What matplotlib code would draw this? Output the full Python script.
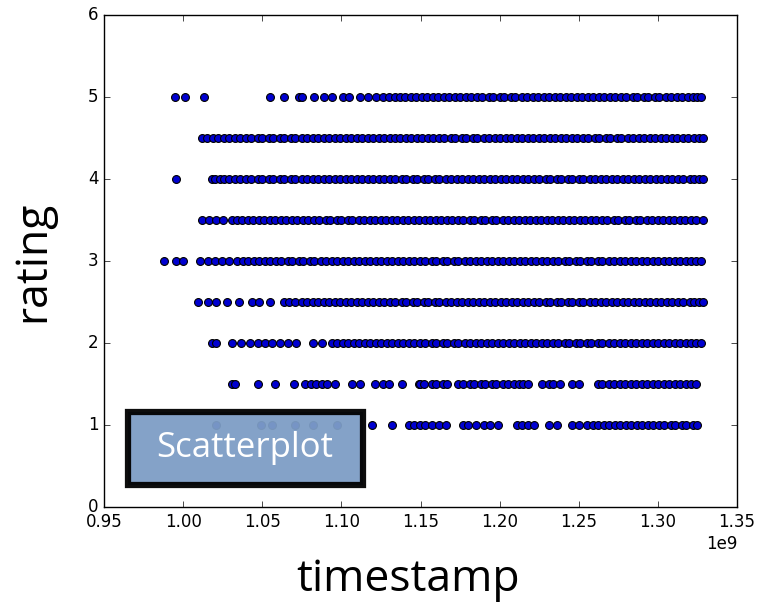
import numpy as np
import matplotlib
matplotlib.use("Agg")
import matplotlib.pyplot as plt
from matplotlib.patches import Rectangle

# timestamps (in units of 1e9 s) read per rating row
ts_50 = [0.995, 1.001, 1.0135, 1.055, 1.064, 1.073, 1.075, 1.083, 1.089, 1.094, 1.101, 1.105,
         1.112, 1.117, 1.122, 1.126, 1.130, 1.134, 1.137, 1.140, 1.144, 1.147, 1.151, 1.154,
         1.158, 1.161, 1.165, 1.168, 1.172, 1.175, 1.179, 1.182, 1.186, 1.189, 1.193, 1.196,
         1.200, 1.203, 1.207, 1.210, 1.214, 1.217, 1.221, 1.224, 1.228, 1.231, 1.235, 1.238,
         1.242, 1.245, 1.249, 1.252, 1.256, 1.259, 1.263, 1.266, 1.270, 1.273, 1.277, 1.280,
         1.284, 1.287, 1.291, 1.294, 1.298, 1.301, 1.305, 1.308, 1.312, 1.315, 1.319, 1.322,
         1.325, 1.3275]
ts_45 = [1.012, 1.015, 1.019, 1.022, 1.026, 1.029, 1.033, 1.036, 1.040, 1.043, 1.047, 1.050,
         1.054, 1.057, 1.061, 1.064, 1.068, 1.071, 1.075, 1.078, 1.082, 1.085, 1.089, 1.092,
         1.096, 1.099, 1.103, 1.106, 1.110, 1.113, 1.117, 1.120, 1.124, 1.127, 1.131, 1.134,
         1.137, 1.141, 1.144, 1.148, 1.151, 1.155, 1.158, 1.162, 1.165, 1.169, 1.172, 1.176,
         1.179, 1.183, 1.186, 1.190, 1.193, 1.197, 1.200, 1.204, 1.207, 1.211, 1.214, 1.218,
         1.221, 1.225, 1.228, 1.232, 1.235, 1.239, 1.242, 1.246, 1.249, 1.253, 1.256, 1.260,
         1.263, 1.267, 1.270, 1.274, 1.277, 1.281, 1.284, 1.288, 1.291, 1.295, 1.298, 1.302,
         1.305, 1.309, 1.312, 1.316, 1.319, 1.323, 1.326, 1.3285]
ts_40 = [0.9955, 1.018, 1.020, 1.023, 1.026, 1.029, 1.033, 1.036, 1.040, 1.043, 1.047, 1.050,
         1.054, 1.057, 1.061, 1.064, 1.068, 1.071, 1.075, 1.078, 1.082, 1.085, 1.089, 1.092,
         1.096, 1.099, 1.103, 1.106, 1.110, 1.113, 1.117, 1.120, 1.124, 1.127, 1.131, 1.134,
         1.138, 1.141, 1.145, 1.148, 1.152, 1.155, 1.159, 1.162, 1.166, 1.169, 1.173, 1.176,
         1.180, 1.183, 1.187, 1.190, 1.194, 1.197, 1.201, 1.204, 1.208, 1.211, 1.215, 1.218,
         1.222, 1.225, 1.229, 1.232, 1.236, 1.239, 1.243, 1.246, 1.250, 1.253, 1.257, 1.260,
         1.264, 1.267, 1.271, 1.274, 1.278, 1.281, 1.285, 1.288, 1.292, 1.295, 1.299, 1.302,
         1.306, 1.309, 1.313, 1.316, 1.320, 1.323, 1.326, 1.3285]
ts_35 = [1.012, 1.0165, 1.021, 1.0255, 1.031, 1.034, 1.037, 1.041, 1.044, 1.048, 1.051, 1.055,
         1.058, 1.062, 1.065, 1.069, 1.072, 1.076, 1.079, 1.083, 1.086, 1.090, 1.093, 1.097,
         1.100, 1.104, 1.107, 1.111, 1.114, 1.118, 1.121, 1.125, 1.128, 1.132, 1.135, 1.139,
         1.142, 1.146, 1.149, 1.153, 1.156, 1.160, 1.163, 1.167, 1.170, 1.174, 1.177, 1.181,
         1.184, 1.188, 1.191, 1.195, 1.198, 1.202, 1.205, 1.209, 1.212, 1.216, 1.219, 1.223,
         1.226, 1.230, 1.233, 1.237, 1.240, 1.244, 1.247, 1.251, 1.254, 1.258, 1.261, 1.265,
         1.268, 1.272, 1.275, 1.279, 1.282, 1.286, 1.289, 1.293, 1.296, 1.300, 1.303, 1.307,
         1.310, 1.314, 1.317, 1.321, 1.324, 1.3285]
ts_30 = [0.988, 0.9955, 1.000, 1.0105, 1.0155, 1.020, 1.0245, 1.029, 1.034, 1.038, 1.041, 1.045,
         1.048, 1.052, 1.055, 1.059, 1.062, 1.066, 1.069, 1.073, 1.076, 1.080, 1.083, 1.087,
         1.090, 1.094, 1.097, 1.101, 1.104, 1.108, 1.111, 1.115, 1.118, 1.122, 1.125, 1.129,
         1.132, 1.136, 1.139, 1.143, 1.146, 1.150, 1.153, 1.157, 1.160, 1.164, 1.167, 1.171,
         1.174, 1.178, 1.181, 1.185, 1.188, 1.192, 1.195, 1.199, 1.202, 1.206, 1.209, 1.213,
         1.216, 1.220, 1.223, 1.227, 1.230, 1.234, 1.237, 1.241, 1.244, 1.248, 1.251, 1.255,
         1.258, 1.262, 1.265, 1.269, 1.272, 1.276, 1.279, 1.283, 1.286, 1.290, 1.293, 1.297,
         1.300, 1.304, 1.307, 1.311, 1.314, 1.318, 1.321, 1.324, 1.3275]
ts_25 = [1.0095, 1.0155, 1.0205, 1.028, 1.035, 1.0435, 1.048, 1.055, 1.0635, 1.067, 1.071, 1.075,
         1.078, 1.082, 1.085, 1.089, 1.092, 1.096, 1.099, 1.103, 1.106, 1.110, 1.113, 1.117,
         1.120, 1.124, 1.127, 1.131, 1.134, 1.138, 1.141, 1.145, 1.148, 1.152, 1.155, 1.159,
         1.162, 1.166, 1.169, 1.173, 1.176, 1.180, 1.183, 1.187, 1.190, 1.194, 1.197, 1.201,
         1.204, 1.208, 1.211, 1.215, 1.218, 1.222, 1.225, 1.229, 1.232, 1.236, 1.239, 1.243,
         1.246, 1.250, 1.253, 1.257, 1.260, 1.264, 1.267, 1.271, 1.274, 1.278, 1.281, 1.285,
         1.288, 1.292, 1.295, 1.299, 1.302, 1.306, 1.309, 1.313, 1.316, 1.320, 1.323, 1.326,
         1.3285]
ts_20 = [1.018, 1.021, 1.031, 1.0365, 1.042, 1.047, 1.052, 1.056, 1.061, 1.066, 1.0715, 1.082,
         1.088, 1.094, 1.097, 1.101, 1.104, 1.108, 1.111, 1.115, 1.118, 1.122, 1.125, 1.129,
         1.132, 1.136, 1.139, 1.143, 1.146, 1.150, 1.153, 1.157, 1.160, 1.164, 1.167, 1.171,
         1.174, 1.178, 1.181, 1.185, 1.188, 1.192, 1.195, 1.199, 1.202, 1.206, 1.209, 1.213,
         1.216, 1.220, 1.223, 1.227, 1.230, 1.234, 1.237, 1.241, 1.244, 1.248, 1.251, 1.255,
         1.258, 1.262, 1.265, 1.269, 1.272, 1.276, 1.279, 1.283, 1.286, 1.290, 1.293, 1.297,
         1.300, 1.304, 1.307, 1.311, 1.314, 1.318, 1.321, 1.324, 1.3275]
ts_15 = [1.031, 1.033, 1.047, 1.058, 1.070, 1.077, 1.081, 1.084, 1.088, 1.091, 1.096, 1.107,
         1.112, 1.121, 1.126, 1.130, 1.138, 1.149, 1.150, 1.152, 1.157, 1.160, 1.164, 1.167,
         1.174, 1.177, 1.181, 1.184, 1.188, 1.191, 1.195, 1.198, 1.202, 1.205, 1.209, 1.212,
         1.215, 1.218, 1.227, 1.231, 1.234, 1.238, 1.246, 1.250, 1.262, 1.265, 1.269, 1.272,
         1.276, 1.279, 1.283, 1.286, 1.290, 1.293, 1.297, 1.300, 1.304, 1.307, 1.311, 1.314,
         1.318, 1.321, 1.324]
ts_10 = [1.021, 1.049, 1.056, 1.071, 1.082, 1.097, 1.1194, 1.1323, 1.1428, 1.146, 1.150, 1.153,
         1.157, 1.162, 1.166, 1.177, 1.180, 1.185, 1.190, 1.194, 1.199, 1.211, 1.214, 1.218,
         1.222, 1.231, 1.236, 1.246, 1.250, 1.255, 1.259, 1.262, 1.266, 1.269, 1.273, 1.276,
         1.280, 1.283, 1.287, 1.290, 1.294, 1.297, 1.301, 1.304, 1.308, 1.311, 1.315, 1.318,
         1.322, 1.325]

rows = {5.0: ts_50, 4.5: ts_45, 4.0: ts_40, 3.5: ts_35, 3.0: ts_30,
        2.5: ts_25, 2.0: ts_20, 1.5: ts_15, 1.0: ts_10}

plt.style.use('classic')

W, H = 757, 605
fig = plt.figure(figsize=(W / 100, H / 100), dpi=100, facecolor='white')
ax = fig.add_axes([104 / W, 1 - 507 / H, (737 - 104) / W, (507 - 15) / H])

x = np.concatenate([np.array(v) * 1e9 for v in rows.values()])
y = np.concatenate([np.full(len(v), r) for r, v in rows.items()])
ax.scatter(x, y, s=32, c='#0000d0', edgecolors='k', linewidths=0.8)

ax.set_xlim(0.95e9, 1.35e9)
ax.set_ylim(0, 6)
ax.set_xticks(np.arange(0.95, 1.351, 0.05) * 1e9)
ax.tick_params(labelsize=12)

# axis titles
label_font = ['Open Sans', 'DejaVu Sans']
fig.text(33 / W, 1 - 261 / H, 'rating', rotation=90, ha='center', va='center',
         fontsize=32, family=label_font)
fig.text(408 / W, 1 - 580 / H, 'timestamp', ha='center', va='center',
         fontsize=32, family=label_font)

# overlay label box
box = Rectangle((128 / W, 1 - 485 / H), (363 - 128) / W, (485 - 412) / H,
                transform=fig.transFigure, facecolor='#7d9dc5', edgecolor='black',
                linewidth=4.5, alpha=0.95, zorder=5)
fig.patches.append(box)
fig.text(245 / W, 1 - 448 / H, 'Scatterplot', ha='center', va='center', color='white',
         fontsize=25, family=label_font, zorder=6)

fig.savefig('out.png', dpi=100, facecolor='white')
